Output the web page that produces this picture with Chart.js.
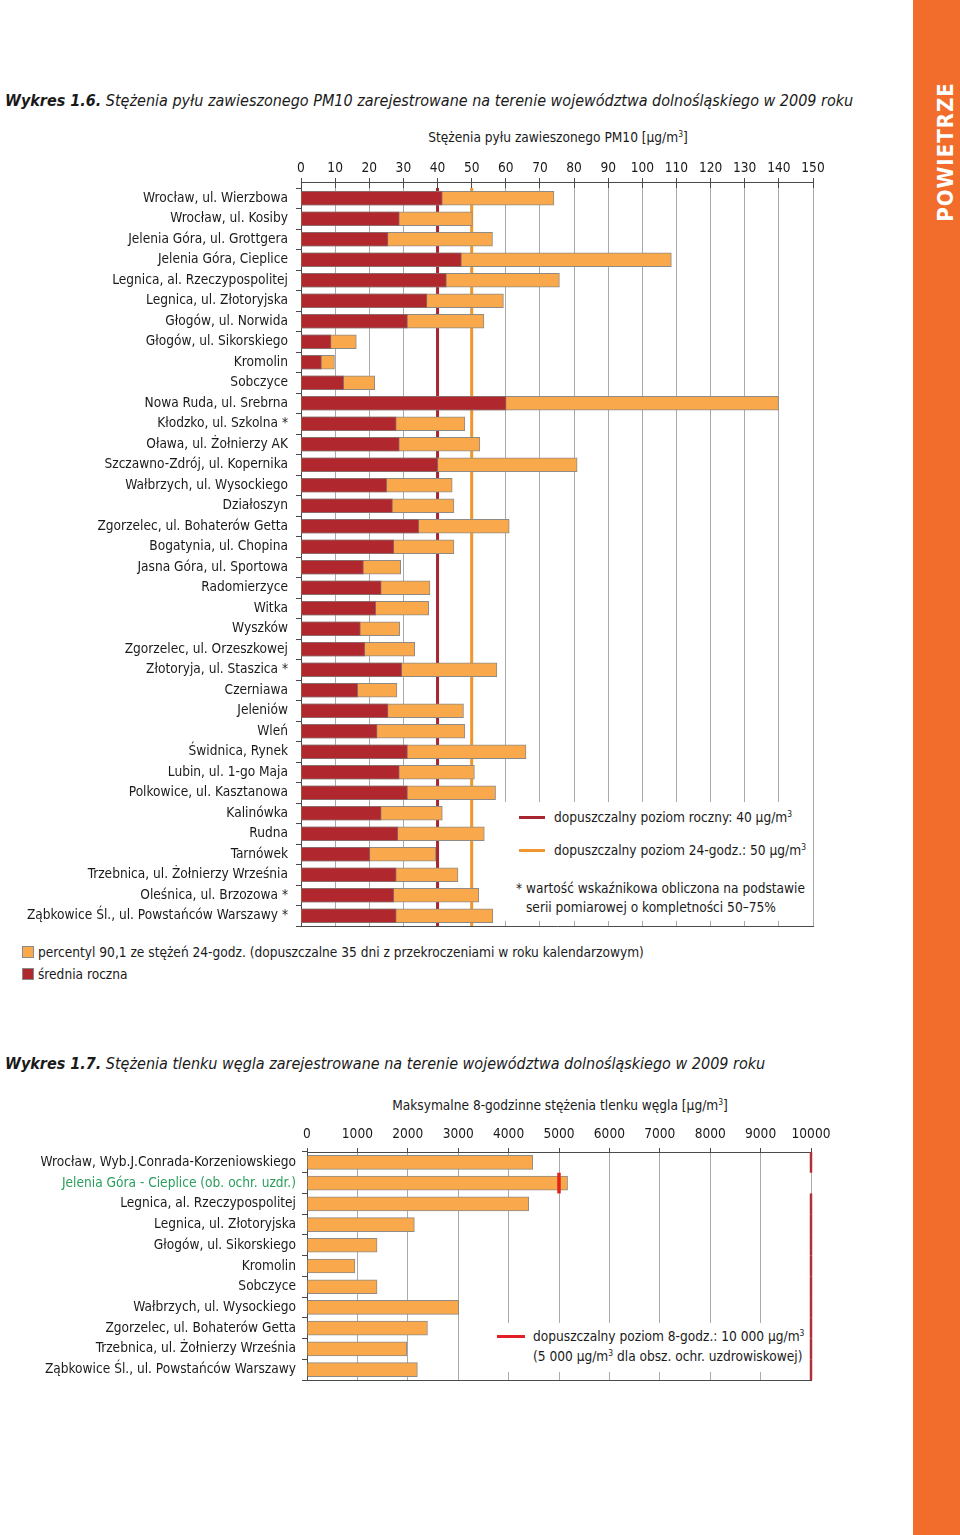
<!DOCTYPE html>
<html lang="pl">
<head>
<meta charset="utf-8">
<script src="https://cdn.jsdelivr.net/npm/chart.js@4.4.1/dist/chart.umd.min.js"></script>
<style>
  body { margin: 0; width: 960px; height: 1535px; position: relative; background: #fff; overflow: hidden;
         font-family: "DejaVu Sans Condensed", "DejaVu Sans", sans-serif; color: #1a1a1a; }
  .abs { position: absolute; white-space: nowrap; }
  .title { font-size: 16px; line-height: 20px; font-style: italic; }
  .txt { font-size: 13.6px; line-height: 16px; }
  sup { font-size: 0.62em; vertical-align: 0.6em; line-height: 0; }
  .box { position: absolute; background: #fff; }
  .swatch { position: absolute; }
  .sq { position: absolute; width: 10px; height: 10px; border: 1px solid #8a8a8a; }
  #strip { position: absolute; left: 913px; top: 0; width: 47px; height: 1535px; background: #f26c2c; }
  #stripTxt { position: absolute; left: 945px; top: 152px; transform: translate(-50%, -50%) rotate(-90deg);
              color: #fff; font-weight: bold; font-size: 22px; letter-spacing: 1px; white-space: nowrap; }
  .wrap { position: absolute; left: 0; width: 900px; }
</style>
</head>
<body>
<div id="strip"></div>
<div id="stripTxt">POWIETRZE</div>

<!-- Wykres 1.6 -->
<div class="abs title" style="left:5px; top:91px;"><b>Wykres 1.6.</b> Stężenia pyłu zawieszonego PM10 zarejestrowane na terenie województwa dolnośląskiego w 2009 roku</div>
<div class="abs txt" style="left:558px; top:129px; transform:translateX(-50%);">Stężenia pyłu zawieszonego PM10 [µg/m<sup>3</sup>]</div>
<div class="wrap" style="top:150px; height:790px;"><canvas id="pm10Chart"></canvas></div>
<div class="box" style="left:498px; top:802px; width:312px; height:119px;"></div>
<div class="swatch" style="left:519px; top:816px; width:26px; height:3px; background:#a8262f;"></div>
<div class="abs txt" style="left:554px; top:809px;">dopuszczalny poziom roczny: 40 µg/m<sup>3</sup></div>
<div class="swatch" style="left:519px; top:849px; width:26px; height:3px; background:#f0962e;"></div>
<div class="abs txt" style="left:554px; top:842px;">dopuszczalny poziom 24-godz.: 50 µg/m<sup>3</sup></div>
<div class="abs txt" style="left:516px; top:880px;">* wartość wskaźnikowa obliczona na podstawie</div>
<div class="abs txt" style="left:526px; top:899px;">serii pomiarowej o kompletności 50–75%</div>
<div class="sq" style="left:22px; top:946px; background:#f9a94b;"></div>
<div class="abs txt" style="left:38px; top:944px;">percentyl 90,1 ze stężeń 24-godz. (dopuszczalne 35 dni z przekroczeniami w roku kalendarzowym)</div>
<div class="sq" style="left:22px; top:968px; background:#b0272e;"></div>
<div class="abs txt" style="left:38px; top:966px;">średnia roczna</div>

<!-- Wykres 1.7 -->
<div class="abs title" style="left:5px; top:1054px;"><b>Wykres 1.7.</b> Stężenia tlenku węgla zarejestrowane na terenie województwa dolnośląskiego w 2009 roku</div>
<div class="abs txt" style="left:560px; top:1097px; transform:translateX(-50%);">Maksymalne 8-godzinne stężenia tlenku węgla [µg/m<sup>3</sup>]</div>
<div class="wrap" style="top:1110px; height:280px;"><canvas id="coChart"></canvas></div>
<div class="box" style="left:490px; top:1323px; width:316px; height:49px;"></div>
<div class="swatch" style="left:497px; top:1335px; width:28px; height:3px; background:#e31e24;"></div>
<div class="abs txt" style="left:533px; top:1328px;">dopuszczalny poziom 8-godz.: 10 000 µg/m<sup>3</sup></div>
<div class="abs txt" style="left:533px; top:1348px;">(5 000 µg/m<sup>3</sup> dla obsz. ochr. uzdrowiskowej)</div>

<script>
// --- dane: PM10 ---
const pm10Stations = [
    'Wrocław, ul. Wierzbowa', 'Wrocław, ul. Kosiby', 'Jelenia Góra, ul. Grottgera', 'Jelenia Góra, Cieplice',
    'Legnica, al. Rzeczypospolitej', 'Legnica, ul. Złotoryjska', 'Głogów, ul. Norwida', 'Głogów, ul. Sikorskiego',
    'Kromolin', 'Sobczyce', 'Nowa Ruda, ul. Srebrna', 'Kłodzko, ul. Szkolna *', 'Oława, ul. Żołnierzy AK',
    'Szczawno-Zdrój, ul. Kopernika', 'Wałbrzych, ul. Wysockiego', 'Działoszyn', 'Zgorzelec, ul. Bohaterów Getta',
    'Bogatynia, ul. Chopina', 'Jasna Góra, ul. Sportowa', 'Radomierzyce', 'Witka', 'Wyszków',
    'Zgorzelec, ul. Orzeszkowej', 'Złotoryja, ul. Staszica *', 'Czerniawa', 'Jeleniów', 'Wleń', 'Świdnica, Rynek',
    'Lubin, ul. 1-go Maja', 'Polkowice, ul. Kasztanowa', 'Kalinówka', 'Rudna', 'Tarnówek',
    'Trzebnica, ul. Żołnierzy Września', 'Oleśnica, ul. Brzozowa *', 'Ząbkowice Śl., ul. Powstańców Warszawy *'
];
const pm10Mean = [41.4, 28.8, 25.5, 47.0, 42.6, 36.9, 31.2, 8.8, 6.0, 12.5, 60.1, 27.9, 28.8, 40.1, 25.1, 26.8, 34.5, 27.2,
    18.3, 23.5, 21.9, 17.4, 18.7, 29.5, 16.6, 25.5, 22.3, 31.2, 28.8, 31.2, 23.5, 28.4, 20.2, 27.9, 27.2, 27.9];
const pm10P90 = [74.1, 50.2, 56.1, 108.5, 75.7, 59.3, 53.6, 16.2, 9.8, 21.6, 139.9, 48.0, 52.4, 80.9, 44.3, 44.8, 61.0, 44.8,
    29.2, 37.8, 37.4, 28.9, 33.3, 57.4, 28.1, 47.6, 48.0, 65.9, 50.8, 57.0, 41.4, 53.7, 39.5, 46.0, 52.1, 56.2];
const pm10Ticks = [0, 10, 20, 30, 40, 50, 60, 70, 80, 90, 100, 110, 120, 130, 140, 150];
const pm10LimitValues = [40, 50];          // roczny, 24-godz.
const pm10LimitColors = ['#a8262f', '#f0962e'];

// --- dane: CO ---
const coStations = [
    'Wrocław, Wyb.J.Conrada-Korzeniowskiego', 'Jelenia Góra - Cieplice (ob. ochr. uzdr.)', 'Legnica, al. Rzeczypospolitej',
    'Legnica, ul. Złotoryjska', 'Głogów, ul. Sikorskiego', 'Kromolin', 'Sobczyce', 'Wałbrzych, ul. Wysockiego',
    'Zgorzelec, ul. Bohaterów Getta', 'Trzebnica, ul. Żołnierzy Września', 'Ząbkowice Śl., ul. Powstańców Warszawy'
];
const coMax8h = [4480, 5170, 4400, 2130, 1390, 950, 1390, 3010, 2390, 1980, 2190];
const coLimits = [10000, 5000, 10000, 10000, 10000, 10000, 10000, 10000, 10000, 10000, 10000];
const coTicks = [0, 1000, 2000, 3000, 4000, 5000, 6000, 7000, 8000, 9000, 10000];

Chart.defaults.font.family = '"DejaVu Sans Condensed", "DejaVu Sans", sans-serif';
Chart.defaults.font.size = 13.6;
Chart.defaults.color = '#1a1a1a';

const GRID = '#a9a9a9';
const AXIS = '#4a4a4a';

// ramka: linia osi u gory (z odstepem) i na dole
const framePlugin = {
    id: 'frame',
    afterDraw(chart, args, opts) {
        const { ctx, chartArea: a } = chart;
        ctx.save();
        ctx.strokeStyle = AXIS;
        ctx.lineWidth = 1;
        ctx.beginPath();
        if (opts.topGap) {
            ctx.moveTo(a.left, a.top - opts.topGap + 0.5);
            ctx.lineTo(a.right, a.top - opts.topGap + 0.5);
        }
        ctx.moveTo(a.left, a.bottom + 0.5);
        ctx.lineTo(a.right + 1, a.bottom + 0.5);
        ctx.stroke();
        ctx.restore();
    }
};

// pionowe linie dopuszczalnych poziomow PM10 (pod slupkami)
const pm10LimitPlugin = {
    id: 'pm10Limits',
    beforeDatasetsDraw(chart) {
        const { ctx, chartArea: a, scales } = chart;
        ctx.save();
        ctx.lineWidth = 3;
        pm10LimitValues.forEach((v, i) => {
            const x = scales.x.getPixelForValue(v);
            ctx.strokeStyle = pm10LimitColors[i];
            ctx.beginPath();
            ctx.moveTo(x, a.top);
            ctx.lineTo(x, a.bottom);
            ctx.stroke();
        });
        ctx.restore();
    }
};

// poziom dopuszczalny CO dla kazdej stacji (odcinek w pasie kategorii)
const coLimitPlugin = {
    id: 'coLimits',
    afterDatasetsDraw(chart) {
        const { ctx, chartArea: a, scales } = chart;
        const half = a.height / coStations.length / 2;
        ctx.save();
        coLimits.forEach((v, i) => {
            const x = scales.x.getPixelForValue(v);
            const y = scales.y.getPixelForValue(i);
            const spa = v < 10000;
            ctx.strokeStyle = spa ? '#e2231a' : '#b03039';
            ctx.lineWidth = spa ? 3.5 : 2.5;
            ctx.beginPath();
            ctx.moveTo(x, y - half);
            ctx.lineTo(x, y + half);
            ctx.stroke();
        });
        ctx.restore();
    }
};

// os kategorii bez dodatkowego marginesu na etykiety
function fixYAxis(width) {
    return s => { s.width = width; s.paddingTop = 0; s.paddingBottom = 0; };
}

new Chart(document.getElementById('pm10Chart'), {
    type: 'bar',
    data: {
        labels: pm10Stations,
        datasets: [{
            label: 'średnia roczna',
            data: pm10Mean,
            backgroundColor: '#b0272e',
            borderColor: '#8c6a6a',
            borderWidth: 1,
            barThickness: 14,
            grouped: false
        }, {
            label: 'percentyl 90,1',
            data: pm10P90,
            backgroundColor: '#f9a94b',
            borderColor: '#8f8a84',
            borderWidth: 1,
            barThickness: 14,
            grouped: false
        }]
    },
    options: {
        indexAxis: 'y',
        responsive: true,
        maintainAspectRatio: false,
        animation: false,
        layout: { padding: { left: 0, right: 87, top: 0, bottom: 14 } },
        plugins: { legend: { display: false }, tooltip: { enabled: false }, frame: { topGap: 6 } },
        scales: {
            x: {
                type: 'linear',
                position: 'top',
                min: 0, max: 150,
                afterBuildTicks: s => { s.ticks = pm10Ticks.map(v => ({ value: v })); },
                afterFit: s => { s.height = 38; },
                grid: { color: GRID, tickColor: AXIS, tickLength: 10 },
                border: { display: false },
                ticks: { padding: 1, maxRotation: 0, autoSkip: false, callback: v => String(v) }
            },
            y: {
                afterFit: fixYAxis(301),
                grid: { drawOnChartArea: false, tickLength: 5, tickColor: AXIS },
                border: { display: true, color: AXIS },
                ticks: { padding: 8, autoSkip: false }
            }
        }
    },
    plugins: [pm10LimitPlugin, framePlugin]
});

new Chart(document.getElementById('coChart'), {
    type: 'bar',
    data: {
        labels: coStations,
        datasets: [{
            label: 'maks. 8-godz.',
            data: coMax8h,
            backgroundColor: '#f9a94b',
            borderColor: '#8f8a84',
            borderWidth: 1,
            barThickness: 14
        }]
    },
    options: {
        indexAxis: 'y',
        responsive: true,
        maintainAspectRatio: false,
        animation: false,
        layout: { padding: { left: 0, right: 89, top: 0, bottom: 10 } },
        plugins: { legend: { display: false }, tooltip: { enabled: false }, frame: { topGap: 0 } },
        scales: {
            x: {
                type: 'linear',
                position: 'top',
                min: 0, max: 10000,
                afterBuildTicks: s => { s.ticks = coTicks.map(v => ({ value: v })); },
                afterFit: s => { s.height = 42; },
                grid: { color: GRID, tickColor: AXIS, tickLength: 4 },
                border: { display: true, color: AXIS },
                ticks: { padding: 5, maxRotation: 0, autoSkip: false, callback: v => String(v) }
            },
            y: {
                afterFit: fixYAxis(307),
                grid: { drawOnChartArea: false, tickLength: 5, tickColor: AXIS },
                border: { display: true, color: AXIS },
                ticks: {
                    padding: 6,
                    autoSkip: false,
                    color: c => (c.index === 1 ? '#2a9d5c' : '#1a1a1a')
                }
            }
        }
    },
    plugins: [coLimitPlugin, framePlugin]
});
</script>
</body>
</html>
